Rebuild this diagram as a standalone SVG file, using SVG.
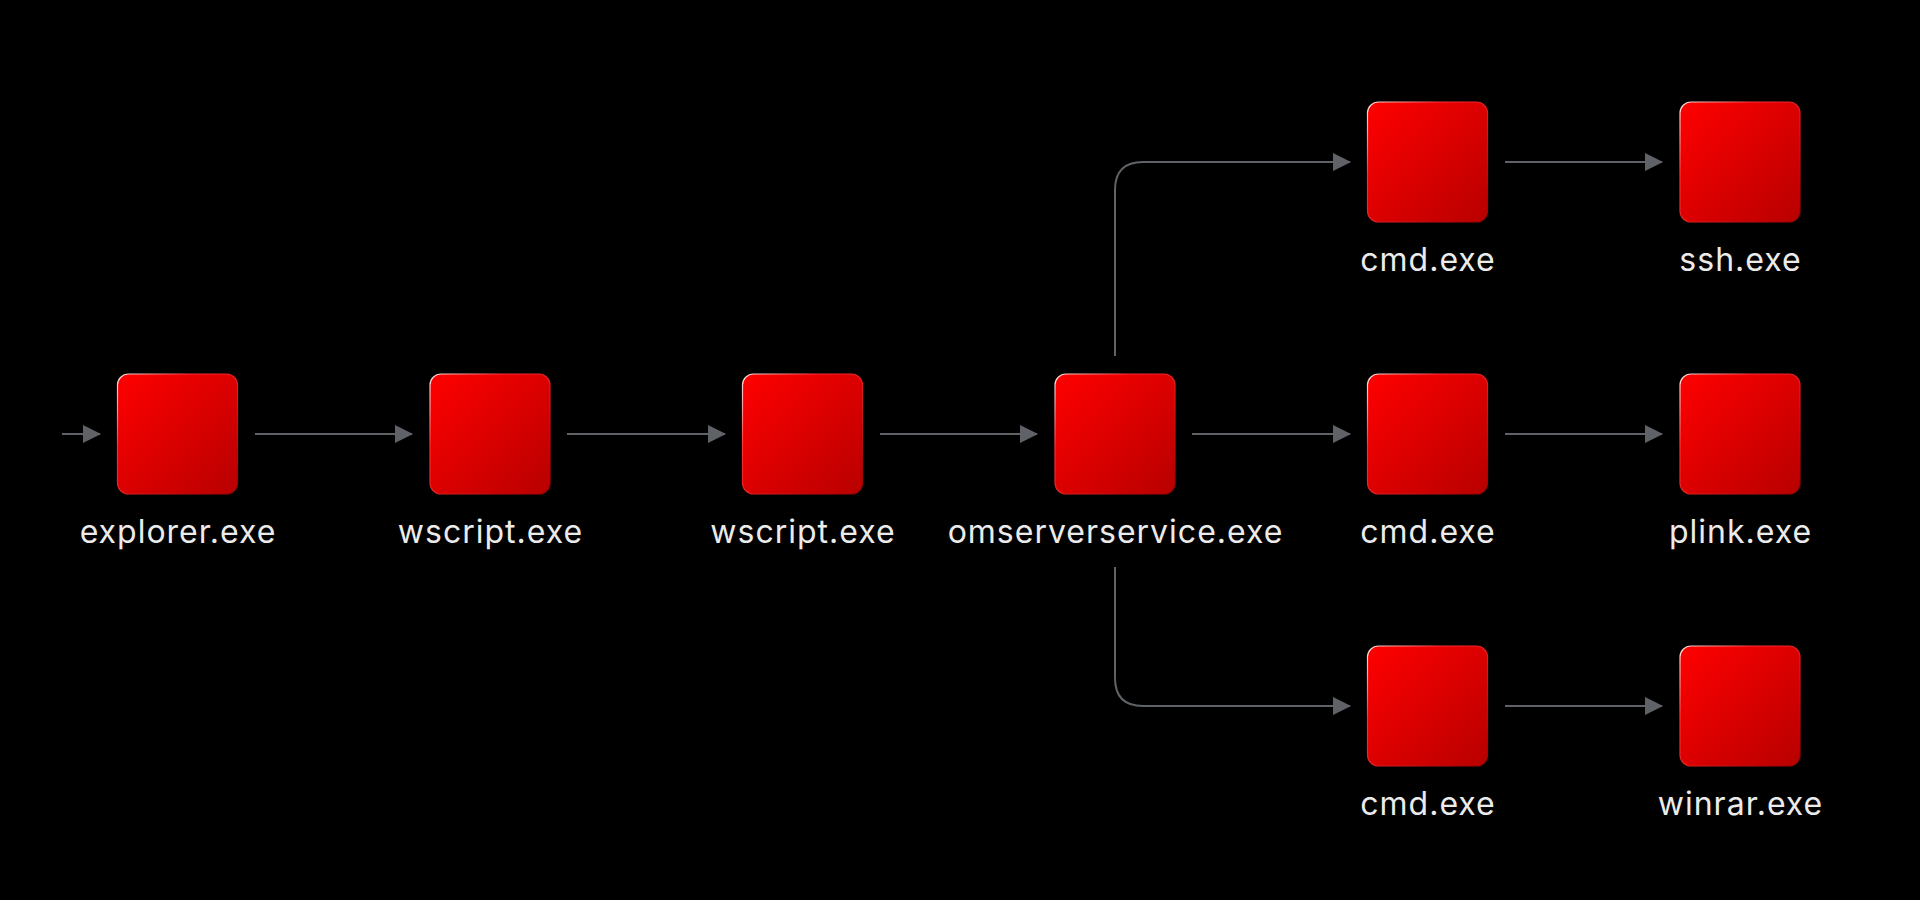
<svg xmlns="http://www.w3.org/2000/svg" width="1920" height="900" viewBox="0 0 1920 900">
<defs>
<linearGradient id="fillG" x1="0" y1="0" x2="1" y2="1">
<stop offset="0" stop-color="#ff0000"/>
<stop offset="1" stop-color="#b80000"/>
</linearGradient>
<linearGradient id="edgeG" x1="0" y1="0" x2="1" y2="1">
<stop offset="0" stop-color="#ffffff" stop-opacity="0.9"/>
<stop offset="0.3" stop-color="#ff3030"/>
<stop offset="1" stop-color="#9a0000"/>
</linearGradient>
<marker id="arr" viewBox="0 0 18 18" refX="17" refY="9" markerWidth="18" markerHeight="18" markerUnits="userSpaceOnUse" orient="auto">
<path d="M0,0 L18,9 L0,18 Z" fill="#5f6368"/>
</marker>
<style>
.box{fill:url(#fillG);stroke:url(#edgeG);stroke-width:1.2}
.lbl{font-family:Inter,"Liberation Sans",sans-serif;font-size:32px;letter-spacing:1px;fill:#ebebeb;text-anchor:middle}
.edge{fill:none;stroke:#5f6368;stroke-width:2;marker-end:url(#arr)}
</style>
</defs>
<rect width="1920" height="900" fill="#000"/>
<g id="connectors">
<path class="edge" d="M62,434 H100"/>
<path class="edge" d="M255,434 H412"/>
<path class="edge" d="M567,434 H725"/>
<path class="edge" d="M880,434 H1037"/>
<path class="edge" d="M1192,434 H1350"/>
<path class="edge" d="M1115,356 V190 Q1115,162 1143,162 H1350"/>
<path class="edge" d="M1115,567 V678 Q1115,706 1143,706 H1350"/>
<path class="edge" d="M1505,162 H1662"/>
<path class="edge" d="M1505,434 H1662"/>
<path class="edge" d="M1505,706 H1662"/>
</g>
<g id="n-explorer"><rect class="box" x="117.5" y="374" width="120" height="120" rx="11"/><text class="lbl" x="178" y="543">explorer.exe</text></g>
<g id="n-wscript1"><rect class="box" x="430" y="374" width="120" height="120" rx="11"/><text class="lbl" x="490.5" y="543">wscript.exe</text></g>
<g id="n-wscript2"><rect class="box" x="742.5" y="374" width="120" height="120" rx="11"/><text class="lbl" x="803" y="543">wscript.exe</text></g>
<g id="n-omserver"><rect class="box" x="1055" y="374" width="120" height="120" rx="11"/><text class="lbl" x="1115.5" y="543">omserverservice.exe</text></g>
<g id="n-cmd1"><rect class="box" x="1367.5" y="102" width="120" height="120" rx="11"/><text class="lbl" x="1428" y="271">cmd.exe</text></g>
<g id="n-cmd2"><rect class="box" x="1367.5" y="374" width="120" height="120" rx="11"/><text class="lbl" x="1428" y="543">cmd.exe</text></g>
<g id="n-cmd3"><rect class="box" x="1367.5" y="646" width="120" height="120" rx="11"/><text class="lbl" x="1428" y="815">cmd.exe</text></g>
<g id="n-ssh"><rect class="box" x="1680" y="102" width="120" height="120" rx="11"/><text class="lbl" x="1740.5" y="271">ssh.exe</text></g>
<g id="n-plink"><rect class="box" x="1680" y="374" width="120" height="120" rx="11"/><text class="lbl" x="1740.5" y="543">plink.exe</text></g>
<g id="n-winrar"><rect class="box" x="1680" y="646" width="120" height="120" rx="11"/><text class="lbl" x="1740.5" y="815">winrar.exe</text></g>
</svg>
